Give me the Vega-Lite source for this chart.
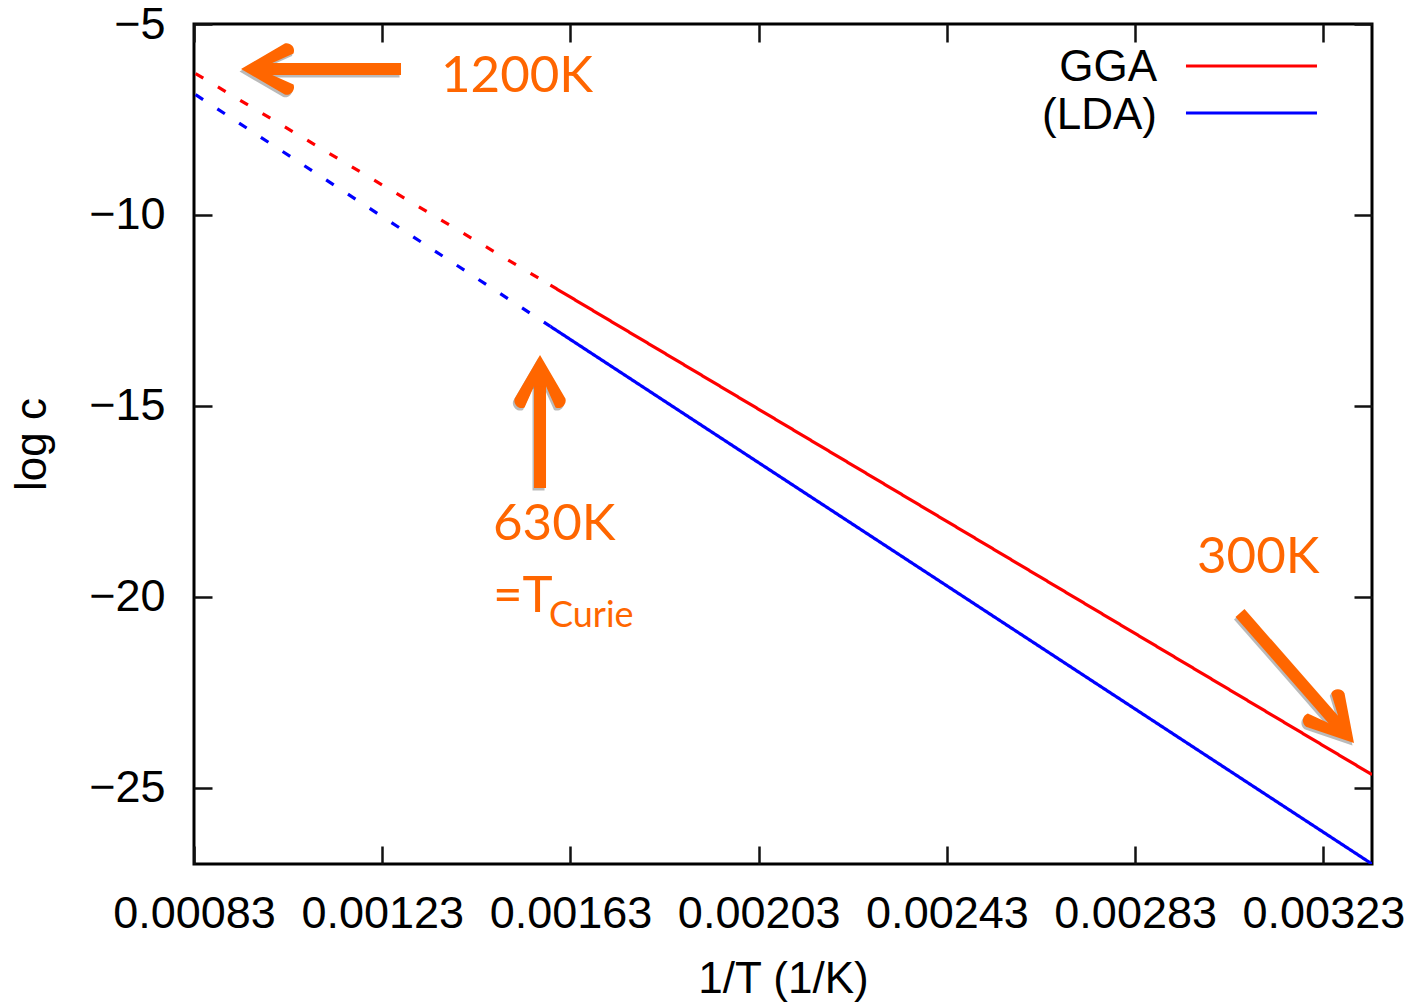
{
  "$schema": "https://vega.github.io/schema/vega-lite/v6.json",
  "width": 1178,
  "height": 840,
  "autosize": {"type": "none"},
  "padding": {"left": 194, "top": 24, "right": 45, "bottom": 138},
  "background": "white",
  "config": {
    "view": {"stroke": "#000000", "strokeWidth": 3},
    "axis": {
      "domain": false,
      "grid": false,
      "tickColor": "#111111",
      "tickWidth": 2.5,
      "tickSize": -18,
      "labelFont": "Liberation Sans",
      "labelFontSize": 45,
      "labelColor": "#000000",
      "titleFont": "Liberation Sans",
      "titleFontSize": 44,
      "titleFontWeight": "normal",
      "titleColor": "#000000",
      "labelFlush": false,
      "labelOverlap": false
    }
  },
  "data": {"values": [{}]},
  "datasets": {
    "curves": [
      {"invT": 0.00083333, "logc": -6.30, "model": "GGA", "segment": "extrapolated"},
      {"invT": 0.0015873, "logc": -11.84, "model": "GGA", "segment": "extrapolated"},
      {"invT": 0.0015873, "logc": -11.84, "model": "GGA", "segment": "calculated"},
      {"invT": 0.0033333, "logc": -24.66, "model": "GGA", "segment": "calculated"},
      {"invT": 0.00083333, "logc": -6.85, "model": "(LDA)", "segment": "extrapolated"},
      {"invT": 0.0015873, "logc": -12.92, "model": "(LDA)", "segment": "extrapolated"},
      {"invT": 0.0015873, "logc": -12.92, "model": "(LDA)", "segment": "calculated"},
      {"invT": 0.0033333, "logc": -27.0, "model": "(LDA)", "segment": "calculated"}
    ]
  },
  "layer": [
    {
      "data": {"name": "curves"},
      "mark": {"type": "line", "strokeWidth": 3.2, "clip": true},
      "encoding": {
        "x": {
          "field": "invT",
          "type": "quantitative",
          "scale": {"domain": [0.00083, 0.0033333], "nice": false, "zero": false},
          "axis": {
            "orient": "bottom",
            "values": [0.00083, 0.00123, 0.00163, 0.00203, 0.00243, 0.00283, 0.00323],
            "format": ".5f",
            "labelPadding": 45,
            "labelDx": 5,
            "title": "1/T (1/K)",
            "titlePadding": 21
          }
        },
        "y": {
          "field": "logc",
          "type": "quantitative",
          "scale": {"domain": [-27, -5], "nice": false, "zero": false},
          "axis": {
            "orient": "left",
            "values": [-5, -10, -15, -20, -25],
            "format": "d",
            "labelPadding": 47,
            "labelDy": 3,
            "title": "log c",
            "titlePadding": 34
          }
        },
        "color": {
          "field": "model",
          "type": "nominal",
          "scale": {"domain": ["GGA", "(LDA)"], "range": ["#ff0000", "#0000ff"]},
          "legend": null
        },
        "strokeDash": {
          "field": "segment",
          "type": "nominal",
          "scale": {"domain": ["calculated", "extrapolated"], "range": [[1, 0], [9, 17]]},
          "legend": null
        }
      }
    },
    {
      "data": {"name": "curves"},
      "mark": {"type": "line", "opacity": 0},
      "encoding": {
        "x": {
          "field": "invT",
          "type": "quantitative",
          "axis": {
            "orient": "top",
            "values": [0.00083, 0.00123, 0.00163, 0.00203, 0.00243, 0.00283, 0.00323],
            "labels": false,
            "title": null
          }
        },
        "y": {
          "field": "logc",
          "type": "quantitative",
          "axis": {
            "orient": "right",
            "values": [-5, -10, -15, -20, -25],
            "labels": false,
            "title": null
          }
        }
      }
    },
    {
      "mark": {"type": "rule", "color": "#ff0000", "strokeWidth": 3},
      "encoding": {
        "x": {"datum": 0.002938, "type": "quantitative", "axis": null},
        "x2": {"datum": 0.0032164},
        "y": {"datum": -6.10, "type": "quantitative", "axis": null}
      }
    },
    {
      "mark": {"type": "rule", "color": "#0000ff", "strokeWidth": 3},
      "encoding": {
        "x": {"datum": 0.002938, "type": "quantitative", "axis": null},
        "x2": {"datum": 0.0032164},
        "y": {"datum": -7.331, "type": "quantitative", "axis": null}
      }
    },
    {
      "mark": {"type": "text", "font": "Liberation Sans", "fontSize": 44, "align": "right", "baseline": "alphabetic", "color": "#000000"},
      "encoding": {
        "x": {"datum": 0.0028764, "type": "quantitative", "axis": null},
        "y": {"datum": -6.493, "type": "quantitative", "axis": null},
        "text": {"value": "GGA"}
      }
    },
    {
      "mark": {"type": "text", "font": "Liberation Sans", "fontSize": 44, "align": "right", "baseline": "alphabetic", "color": "#000000"},
      "encoding": {
        "x": {"datum": 0.0028764, "type": "quantitative", "axis": null},
        "y": {"datum": -7.75, "type": "quantitative", "axis": null},
        "text": {"value": "(LDA)"}
      }
    },
    {
      "mark": {"type": "rule", "color": "#666666", "opacity": 0.45, "strokeWidth": 12, "strokeCap": "butt", "xOffset": -1.5, "x2Offset": -1.5, "yOffset": 2.5, "y2Offset": 2.5},
      "encoding": {
        "x": {"datum": 0.0012699, "type": "quantitative", "axis": null},
        "x2": {"datum": 0.000989},
        "y": {"datum": -6.179, "type": "quantitative", "axis": null}
      }
    },
    {
      "mark": {"type": "point", "shape": "M0,0 L-1.75,-1.02 A0.3,0.3 0 0 0 -2.1,-0.62 L-1.25,-0.24 L-1.25,0.24 L-2.1,0.62 A0.3,0.3 0 0 0 -1.75,1.02 Z", "size": 2500, "filled": true, "color": "#666666", "opacity": 0.45, "strokeWidth": 0, "angle": 180, "xOffset": -1.5, "yOffset": 2.5},
      "encoding": {
        "x": {"datum": 0.0009299, "type": "quantitative", "axis": null},
        "y": {"datum": -6.179, "type": "quantitative", "axis": null}
      }
    },
    {
      "mark": {"type": "rule", "color": "#666666", "opacity": 0.45, "strokeWidth": 12, "strokeCap": "butt", "xOffset": -1.5, "x2Offset": -1.5, "yOffset": 2.5, "y2Offset": 2.5},
      "encoding": {
        "x": {"datum": 0.0015653, "type": "quantitative", "axis": null},
        "y": {"datum": -17.152, "type": "quantitative", "axis": null},
        "y2": {"datum": -14.42}
      }
    },
    {
      "mark": {"type": "point", "shape": "M0,0 L-1.75,-1.02 A0.3,0.3 0 0 0 -2.1,-0.62 L-1.25,-0.24 L-1.25,0.24 L-2.1,0.62 A0.3,0.3 0 0 0 -1.75,1.02 Z", "size": 2500, "filled": true, "color": "#666666", "opacity": 0.45, "strokeWidth": 0, "angle": 270, "xOffset": -1.5, "yOffset": 2.5},
      "encoding": {
        "x": {"datum": 0.0015653, "type": "quantitative", "axis": null},
        "y": {"datum": -13.669, "type": "quantitative", "axis": null}
      }
    },
    {
      "mark": {"type": "rule", "color": "#666666", "opacity": 0.45, "strokeWidth": 12, "strokeCap": "butt", "xOffset": -1.5, "x2Offset": -1.5, "yOffset": 2.5, "y2Offset": 2.5},
      "encoding": {
        "x": {"datum": 0.0030528, "type": "quantitative", "axis": null},
        "x2": {"datum": 0.0032543},
        "y": {"datum": -20.426, "type": "quantitative", "axis": null},
        "y2": {"datum": -23.26}
      }
    },
    {
      "mark": {"type": "point", "shape": "M0,0 L-1.75,-1.02 A0.3,0.3 0 0 0 -2.1,-0.62 L-1.25,-0.24 L-1.25,0.24 L-2.1,0.62 A0.3,0.3 0 0 0 -1.75,1.02 Z", "size": 2500, "filled": true, "color": "#666666", "opacity": 0.45, "strokeWidth": 0, "angle": 49, "xOffset": -1.5, "yOffset": 2.5},
      "encoding": {
        "x": {"datum": 0.003295, "type": "quantitative", "axis": null},
        "y": {"datum": -23.831, "type": "quantitative", "axis": null}
      }
    },
    {
      "mark": {"type": "rule", "color": "#ff6600", "strokeWidth": 12, "strokeCap": "butt"},
      "encoding": {
        "x": {"datum": 0.0012699, "type": "quantitative", "axis": null},
        "x2": {"datum": 0.000989},
        "y": {"datum": -6.179, "type": "quantitative", "axis": null}
      }
    },
    {
      "mark": {"type": "point", "shape": "M0,0 L-1.75,-1.02 A0.3,0.3 0 0 0 -2.1,-0.62 L-1.25,-0.24 L-1.25,0.24 L-2.1,0.62 A0.3,0.3 0 0 0 -1.75,1.02 Z", "size": 2500, "filled": true, "color": "#ff6600", "opacity": 1, "strokeWidth": 0, "angle": 180},
      "encoding": {
        "x": {"datum": 0.0009299, "type": "quantitative", "axis": null},
        "y": {"datum": -6.179, "type": "quantitative", "axis": null}
      }
    },
    {
      "mark": {"type": "rule", "color": "#ff6600", "strokeWidth": 12, "strokeCap": "butt"},
      "encoding": {
        "x": {"datum": 0.0015653, "type": "quantitative", "axis": null},
        "y": {"datum": -17.152, "type": "quantitative", "axis": null},
        "y2": {"datum": -14.42}
      }
    },
    {
      "mark": {"type": "point", "shape": "M0,0 L-1.75,-1.02 A0.3,0.3 0 0 0 -2.1,-0.62 L-1.25,-0.24 L-1.25,0.24 L-2.1,0.62 A0.3,0.3 0 0 0 -1.75,1.02 Z", "size": 2500, "filled": true, "color": "#ff6600", "opacity": 1, "strokeWidth": 0, "angle": 270},
      "encoding": {
        "x": {"datum": 0.0015653, "type": "quantitative", "axis": null},
        "y": {"datum": -13.669, "type": "quantitative", "axis": null}
      }
    },
    {
      "mark": {"type": "rule", "color": "#ff6600", "strokeWidth": 12, "strokeCap": "butt"},
      "encoding": {
        "x": {"datum": 0.0030528, "type": "quantitative", "axis": null},
        "x2": {"datum": 0.0032543},
        "y": {"datum": -20.426, "type": "quantitative", "axis": null},
        "y2": {"datum": -23.26}
      }
    },
    {
      "mark": {"type": "point", "shape": "M0,0 L-1.75,-1.02 A0.3,0.3 0 0 0 -2.1,-0.62 L-1.25,-0.24 L-1.25,0.24 L-2.1,0.62 A0.3,0.3 0 0 0 -1.75,1.02 Z", "size": 2500, "filled": true, "color": "#ff6600", "opacity": 1, "strokeWidth": 0, "angle": 49},
      "encoding": {
        "x": {"datum": 0.003295, "type": "quantitative", "axis": null},
        "y": {"datum": -23.831, "type": "quantitative", "axis": null}
      }
    },
    {
      "mark": {"type": "text", "font": "Lato", "fontSize": 51, "align": "left", "baseline": "alphabetic", "color": "#ff6600"},
      "encoding": {
        "x": {"datum": 0.0013549, "type": "quantitative", "axis": null},
        "y": {"datum": -6.781, "type": "quantitative", "axis": null},
        "text": {"value": "1200K"}
      }
    },
    {
      "mark": {"type": "text", "font": "Lato", "fontSize": 51, "align": "left", "baseline": "alphabetic", "color": "#ff6600"},
      "encoding": {
        "x": {"datum": 0.0014654, "type": "quantitative", "axis": null},
        "y": {"datum": -18.514, "type": "quantitative", "axis": null},
        "text": {"value": "630K"}
      }
    },
    {
      "mark": {"type": "text", "font": "Lato", "fontSize": 51, "align": "left", "baseline": "alphabetic", "color": "#ff6600"},
      "encoding": {
        "x": {"datum": 0.0014654, "type": "quantitative", "axis": null},
        "y": {"datum": -20.4, "type": "quantitative", "axis": null},
        "text": {"value": "=T"}
      }
    },
    {
      "mark": {"type": "text", "font": "Lato", "fontSize": 36, "align": "left", "baseline": "alphabetic", "color": "#ff6600"},
      "encoding": {
        "x": {"datum": 0.0015844, "type": "quantitative", "axis": null},
        "y": {"datum": -20.793, "type": "quantitative", "axis": null},
        "text": {"value": "Curie"}
      }
    },
    {
      "mark": {"type": "text", "font": "Lato", "fontSize": 51, "align": "left", "baseline": "alphabetic", "color": "#ff6600"},
      "encoding": {
        "x": {"datum": 0.0029614, "type": "quantitative", "axis": null},
        "y": {"datum": -19.379, "type": "quantitative", "axis": null},
        "text": {"value": "300K"}
      }
    }
  ],
  "resolve": {"axis": {"x": "independent", "y": "independent"}}
}
